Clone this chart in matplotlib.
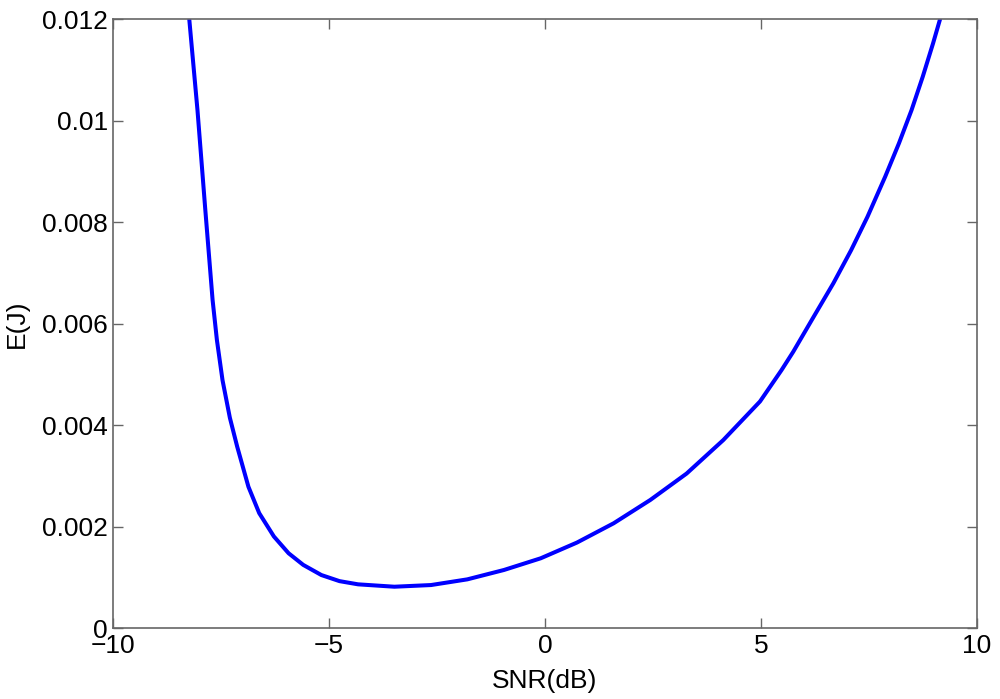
import matplotlib.pyplot as plt
import numpy as np

plt.rcParams['font.family'] = ['Liberation Sans', 'DejaVu Sans']

# values
snr_db = [-8.24, -8.05, -7.87, -7.70, -7.60, -7.47, -7.30, -7.13, -6.87, -6.62,
          -6.28, -5.94, -5.60, -5.18, -4.76, -4.33, -3.49, -2.64, -1.80, -0.95,
          -0.10, 0.74, 1.59, 2.44, 3.28, 4.13, 4.98, 5.48, 5.75, 6.21,
          6.68, 7.09, 7.47, 7.88, 8.20, 8.49, 8.75, 8.99, 9.15]
energy = [0.01200, 0.01021, 0.00826, 0.00647, 0.00568, 0.00489, 0.00415, 0.00358, 0.00279, 0.00227,
          0.00181, 0.00148, 0.00125, 0.00105, 0.00093, 0.000867, 0.00082, 0.000853, 0.000965, 0.00115,
          0.00138, 0.00169, 0.00207, 0.00253, 0.00305, 0.00371, 0.00447, 0.00509, 0.00545, 0.00612,
          0.00680, 0.00745, 0.00811, 0.00890, 0.00956, 0.01021, 0.01087, 0.01153, 0.01200]

xticks = [-10, -5, 0, 5, 10]
xlabels = ['\u221210', '\u22125', '0', '5', '10']
yticks = [0, 0.002, 0.004, 0.006, 0.008, 0.01, 0.012]
ylabels = ['0', '0.002', '0.004', '0.006', '0.008', '0.01', '0.012']

fig = plt.figure(figsize=(10, 6.99), dpi=100)
ax = fig.add_axes([0.1133, 0.1011, 0.8634, 0.8712])

ax.plot(snr_db, energy, color='#0000ff', linewidth=2.9,
        solid_joinstyle='round', solid_capstyle='round')

ax.set_xlim(-10, 10)
ax.set_ylim(0, 0.012)
ax.set_xticks(xticks)
ax.set_xticklabels(xlabels)
ax.set_yticks(yticks)
ax.set_yticklabels(ylabels)

ax.tick_params(direction='in', length=7, width=1, color='#666666',
               labelsize=19, top=True, right=True, pad=4)
for s in ax.spines.values():
    s.set_color('#666666')
    s.set_linewidth(1.2)

ax.set_xlabel('SNR(dB)', fontsize=19, labelpad=8)
ax.set_ylabel('E(J)', fontsize=19, labelpad=9)

fig.savefig('out.png', dpi=100)
